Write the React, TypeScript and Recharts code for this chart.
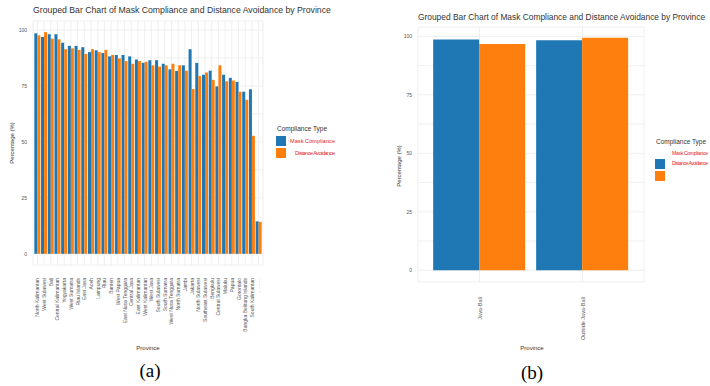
import React from 'react';
import { BarChart, Bar, XAxis, YAxis, CartesianGrid } from 'recharts';

// panel (a): all provinces
const provinces = [
  'North Kalimantan', 'West Sulawesi', 'Bali', 'Central Kalimantan', 'Yogyakarta',
  'West Sumatra', 'Riau Islands', 'East Java', 'Aceh', 'Lampung', 'Riau', 'Banten',
  'West Papua', 'East Nusa Tenggara', 'Central Java', 'East Kalimantan', 'West Kalimantan',
  'West Java', 'South Sulawesi', 'South Sumatra', 'West Nusa Tenggara', 'North Sumatra',
  'Jambi', 'Jakarta', 'North Sulawesi', 'Southeast Sulawesi', 'Bengkulu', 'Central Sulawesi',
  'Maluku', 'Papua', 'Gorontalo', 'Bangka Belitung Islands', 'South Kalimantan', '· · · · ·',
];
const maskCompliance = [
  98.5, 96.9, 98.1, 98.1, 94.3, 92.9, 92.9, 92.3, 90.1, 90.9, 89.7, 88.2, 88.8, 88.8, 88.2,
  86.8, 85.3, 86.5, 86.5, 84.9, 82.4, 81.7, 84.2, 91.4, 85.3, 80.0, 81.8, 74.8, 80.0, 78.6,
  76.8, 72.4, 73.5, 14.5,
];
const distanceAvoidance = [
  97.6, 99.0, 96.1, 95.8, 91.4, 91.8, 91.1, 89.3, 91.4, 90.1, 91.1, 88.8, 87.3, 86.1, 84.9,
  86.1, 85.8, 84.2, 83.6, 84.2, 84.9, 84.2, 81.8, 73.6, 79.4, 81.0, 77.7, 84.2, 77.1, 77.4,
  72.4, 68.8, 52.7, 14.3,
];

// panel (b): two regions
const regions = ['Java-Bali', 'Outside Java-Bali'];
const regionMask = [98.7, 98.3];
const regionDistance = [96.7, 99.4];

const yTicks = [0, 12.5, 25, 37.5, 50, 62.5, 75, 87.5, 100];
const BLUE = '#1f77b4';
const ORANGE = '#ff7f0e';
const GRID = '#ebebeb';
const FONT = '"Liberation Sans", Arial, sans-serif';

const provinceData = provinces.map((p, i) => ({
  name: p,
  mask: maskCompliance[i],
  distance: distanceAvoidance[i],
}));
const regionData = regions.map((r, i) => ({
  name: r,
  mask: regionMask[i],
  distance: regionDistance[i],
}));

const RotTick = (props: any) => {
  const { x, y, payload, size } = props;
  return (
    <text
      x={x}
      y={y}
      transform={`rotate(-90 ${x} ${y})`}
      textAnchor="end"
      dominantBaseline="central"
      fontSize={size}
      fontFamily={FONT}
      fill="#555"
    >
      {payload.value}
    </text>
  );
};

const yFmt = (v: number) => (v % 25 === 0 ? String(v) : '');

const Panel = ({ data, width, left, top, yWidth, right, xHeight, tickGap, tickSize }: any) => (
  <div style={{ position: 'absolute', left, top: 0 }}>
    <BarChart
      width={width}
      height={386}
      data={data}
      margin={{ top, right, bottom: 0, left: 0 }}
      barCategoryGap="5%"
      barGap={0}
    >
      <CartesianGrid stroke={GRID} strokeWidth={0.8} />
      <XAxis
        dataKey="name"
        interval={0}
        height={xHeight}
        axisLine={false}
        tickLine={false}
        tickSize={0}
        tickMargin={tickGap}
        padding={{ left: data.length > 2 ? 1 : 10, right: data.length > 2 ? 1 : 10 }}
        tick={<RotTick size={tickSize} />}
      />
      <YAxis
        type="number"
        domain={[-5, 104]}
        ticks={yTicks}
        width={yWidth}
        axisLine={false}
        tickLine={false}
        tickSize={0}
        tickMargin={6}
        tickFormatter={yFmt}
        tick={{ fontSize: 5, fill: '#555', fontFamily: FONT }}
      />
      <Bar dataKey="mask" name="Mask Compliance" fill={BLUE} isAnimationActive={false} />
      <Bar dataKey="distance" name="Distance Avoidance" fill={ORANGE} isAnimationActive={false} />
    </BarChart>
  </div>
);

const App = () => {
  const txt = { fontFamily: FONT, fill: '#333' };
  return (
    <div style={{ position: 'absolute', left: 0, top: 0, width: 710, height: 386, background: '#fff', overflow: 'hidden' }}>
      <Panel data={provinceData} width={270} left={0} top={21} yWidth={33} right={7} xHeight={121} tickGap={13} tickSize={5} />
      <Panel data={regionData} width={290} left={360} top={27} yWidth={58} right={6} xHeight={104} tickGap={15} tickSize={5.5} />
      <svg width={710} height={386} style={{ position: 'absolute', left: 0, top: 0, pointerEvents: 'none' }}>
        {/* titles */}
        <text x={182} y={10} textAnchor="middle" dominantBaseline="central" fontSize={8.7} {...txt}>
          Grouped Bar Chart of Mask Compliance and Distance Avoidance by Province
        </text>
        <text x={418} y={17} textAnchor="start" dominantBaseline="central" fontSize={8.4} {...txt}>
          Grouped Bar Chart of Mask Compliance and Distance Avoidance by Province
        </text>
        {/* axis titles */}
        <text x={12} y={143} transform="rotate(-90 12 143)" textAnchor="middle" dominantBaseline="central" fontSize={6} {...txt}>
          Percentage (%)
        </text>
        <text x={399} y={166} transform="rotate(-90 399 166)" textAnchor="middle" dominantBaseline="central" fontSize={6} {...txt}>
          Percentage (%)
        </text>
        <text x={148} y={348} textAnchor="middle" dominantBaseline="central" fontSize={6} {...txt}>Province</text>
        <text x={532} y={348} textAnchor="middle" dominantBaseline="central" fontSize={6} {...txt}>Province</text>
        {/* legend (a) */}
        <text x={277} y={128} dominantBaseline="central" fontSize={6.5} {...txt}>Compliance Type</text>
        <rect x={276} y={136} width={10} height={10} fill={BLUE} />
        <rect x={276} y={148} width={10} height={10} fill={ORANGE} />
        <text x={335} y={141} textAnchor="end" dominantBaseline="central" fontSize={5.5} textLength={45} fontFamily={FONT} fill="#e31a1c">Mask Compliance</text>
        <text x={335} y={153} textAnchor="end" dominantBaseline="central" fontSize={5.5} textLength={40} fontFamily={FONT} fill="#e31a1c">Distance Avoidance</text>
        {/* legend (b) */}
        <text x={656} y={141} dominantBaseline="central" fontSize={6.5} {...txt}>Compliance Type</text>
        <text x={672} y={153} dominantBaseline="central" fontSize={5} textLength={36} fontFamily={FONT} fill="#e31a1c">Mask Compliance</text>
        <text x={672} y={163} dominantBaseline="central" fontSize={5} textLength={36} fontFamily={FONT} fill="#e31a1c">Distance Avoidance</text>
        <rect x={655} y={159} width={10} height={10} fill={BLUE} />
        <rect x={655} y={171} width={10} height={10} fill={ORANGE} />
        {/* captions */}
        <text x={150} y={370} textAnchor="middle" dominantBaseline="central" fontSize={19} fontFamily='"Liberation Serif", "DejaVu Serif", serif' fill="#000">(a)</text>
        <text x={532} y={372} textAnchor="middle" dominantBaseline="central" fontSize={19} fontFamily='"Liberation Serif", "DejaVu Serif", serif' fill="#000">(b)</text>
      </svg>
    </div>
  );
};

export default App;
